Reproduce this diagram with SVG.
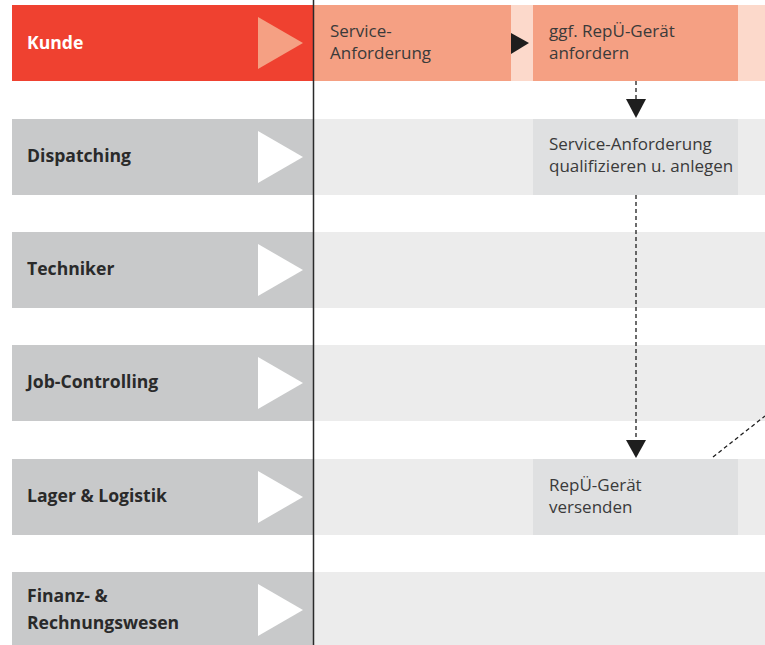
<svg xmlns="http://www.w3.org/2000/svg" width="765" height="645" viewBox="0 0 765 645">
<style>
.lbl{font-family:"Open Sans","Noto Sans","Liberation Sans",sans-serif;font-weight:bold;font-size:17.6px;fill:#2a2a2a}
.lblw{fill:#ffffff}
.txt{font-family:"Open Sans","Noto Sans","Liberation Sans",sans-serif;font-size:17px;fill:#3a3a3a}
.lane{fill:#ececec}
.hdr{fill:#c8c9ca}
.tri{fill:#ffffff}
.node{fill:#dfe0e1}
.conn{stroke:#1e1e1e;stroke-width:1.3;stroke-dasharray:4 3;fill:none}
</style>
<rect width="765" height="645" fill="#ffffff"/>
<g id="lane-kunde">
<rect x="314" y="5" width="451" height="76" fill="#fcd9cb"/>
<rect x="12" y="5" width="302" height="76" fill="#ef4130"/>
<polygon points="258,17 303,43 258,69" fill="#f5a083"/>
<text x="27" y="49" class="lbl lblw">Kunde</text>
</g>
<g id="lane-dispatching">
<rect x="314" y="119" width="451" height="76" class="lane"/>
<rect x="12" y="119" width="302" height="76" class="hdr"/>
<polygon points="258,131 303,157 258,183" class="tri"/>
<text x="27" y="162" class="lbl">Dispatching</text>
</g>
<g id="lane-techniker">
<rect x="314" y="232" width="451" height="76" class="lane"/>
<rect x="12" y="232" width="302" height="76" class="hdr"/>
<polygon points="258,244 303,270 258,296" class="tri"/>
<text x="27" y="275" class="lbl">Techniker</text>
</g>
<g id="lane-jobcontrolling">
<rect x="314" y="345" width="451" height="76" class="lane"/>
<rect x="12" y="345" width="302" height="76" class="hdr"/>
<polygon points="258,357 303,383 258,409" class="tri"/>
<text x="27" y="388" class="lbl">Job-Controlling</text>
</g>
<g id="lane-lager">
<rect x="314" y="459" width="451" height="76" class="lane"/>
<rect x="12" y="459" width="302" height="76" class="hdr"/>
<polygon points="258,471 303,497 258,523" class="tri"/>
<text x="27" y="502" class="lbl">Lager &amp; Logistik</text>
</g>
<g id="lane-finanz">
<rect x="314" y="572" width="451" height="73" class="lane"/>
<rect x="12" y="572" width="302" height="73" class="hdr"/>
<polygon points="258,584 303,610 258,636" class="tri"/>
<text x="27" y="602" class="lbl">Finanz- &amp;</text>
<text x="27" y="629" class="lbl">Rechnungswesen</text>
</g>
<g id="node-service-anforderung">
<rect x="314" y="5" width="197" height="76" fill="#f5a083"/>
<text x="330" y="37" class="txt">Service-</text>
<text x="330" y="59" class="txt">Anforderung</text>
</g>
<g id="node-repue-anfordern">
<rect x="533" y="5" width="205" height="76" fill="#f5a083"/>
<text x="549" y="37" class="txt">ggf. RepÜ-Gerät</text>
<text x="549" y="59" class="txt">anfordern</text>
</g>
<g id="node-qualifizieren">
<rect x="533" y="119" width="205" height="76" class="node"/>
<text x="549" y="150" class="txt">Service-Anforderung</text>
<text x="549" y="172" class="txt">qualifizieren u. anlegen</text>
</g>
<g id="node-versenden">
<rect x="533" y="459" width="205" height="76" class="node"/>
<text x="549" y="491" class="txt">RepÜ-Gerät</text>
<text x="549" y="513" class="txt">versenden</text>
</g>
<g id="connectors">
<polygon points="511,33 529,43 511,54" fill="#1e1e1e"/>
<line x1="636" y1="81" x2="636" y2="100" class="conn"/>
<polygon points="626,99 646,99 636,118" fill="#1e1e1e"/>
<line x1="636" y1="195" x2="636" y2="441" class="conn"/>
<polygon points="626,440 646,440 636,458" fill="#1e1e1e"/>
<line x1="713" y1="457" x2="765" y2="416" class="conn"/>
</g>
<line x1="313.5" y1="0" x2="313.5" y2="645" stroke="#2a2a2a" stroke-width="1.5"/>
</svg>
